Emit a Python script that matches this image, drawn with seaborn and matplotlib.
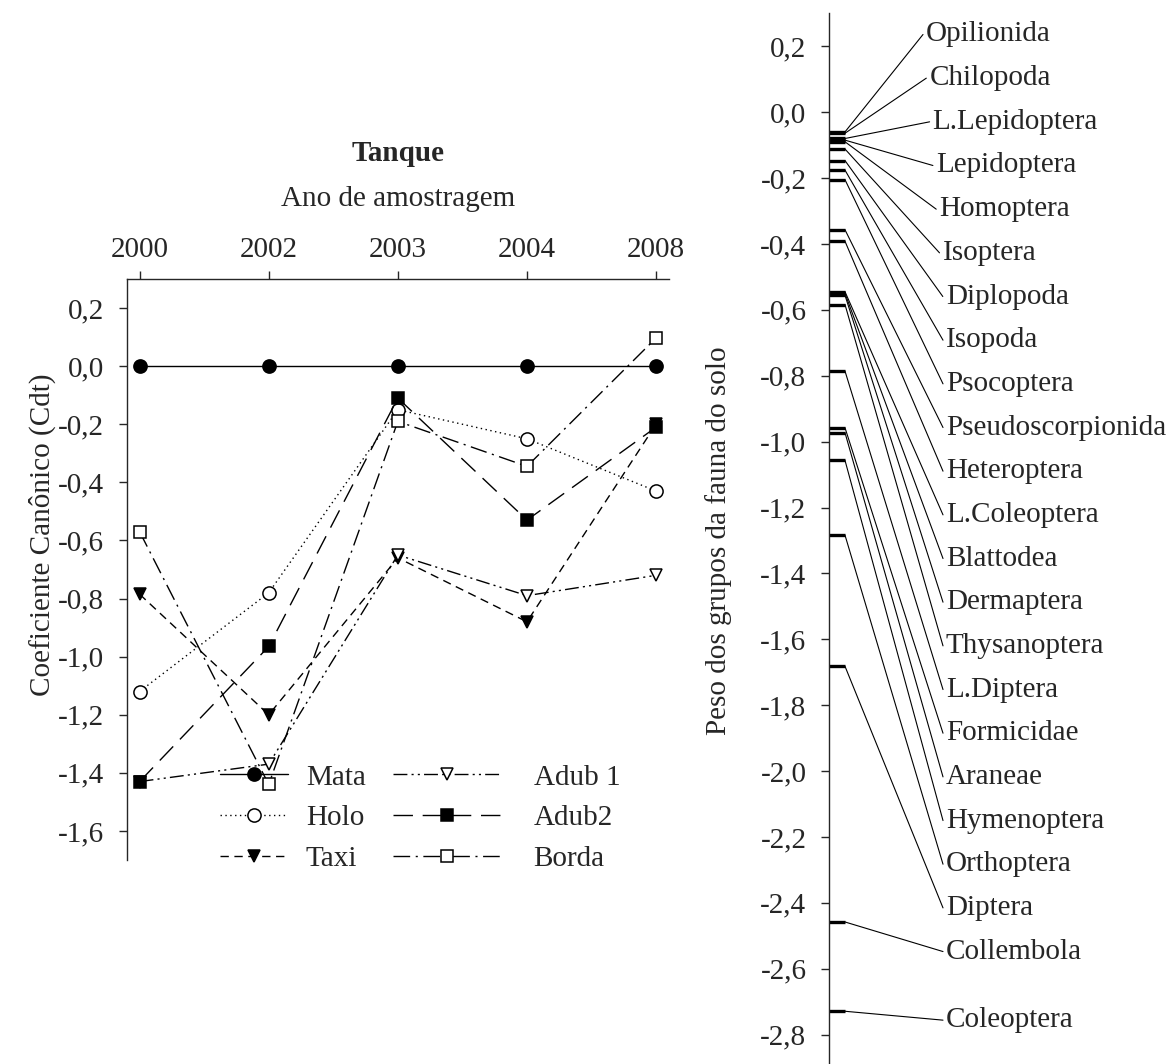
import numpy as np
import pandas as pd
import matplotlib
matplotlib.use('Agg')
import matplotlib.pyplot as plt
import matplotlib.ticker as mticker
import seaborn as sns

# ── Data ────────────────────────────────────────────────────────────────
years = ['2000', '2002', '2003', '2004', '2008']

mata = [0.0, 0.0, 0.0, 0.0, 0.0]
holo = [-1.12, -0.78, -0.15, -0.25, -0.43]
taxi = [-0.785, -1.20, -0.66, -0.88, -0.20]
adub1 = [-1.43, -1.37, -0.65, -0.79, -0.72]
adub2 = [-1.43, -0.965, -0.11, -0.53, -0.21]
borda = [-0.57, -1.44, -0.19, -0.345, 0.097]

groups = ['Opilionida', 'Chilopoda', 'L.Lepidoptera', 'Lepidoptera', 'Homoptera',
          'Isoptera', 'Diplopoda', 'Isopoda', 'Psocoptera', 'Pseudoscorpionida',
          'Heteroptera', 'L.Coleoptera', 'Blattodea', 'Dermaptera', 'Thysanoptera',
          'L.Diptera', 'Formicidae', 'Araneae', 'Hymenoptera', 'Orthoptera',
          'Diptera', 'Collembola', 'Coleoptera']
weights = [-0.060, -0.064, -0.080, -0.085, -0.090,
           -0.112, -0.147, -0.176, -0.205, -0.357,
           -0.392, -0.545, -0.550, -0.556, -0.584,
           -0.786, -0.958, -0.973, -1.057, -1.284,
           -1.682, -2.458, -2.729]

# ── Setup ───────────────────────────────────────────────────────────────
sns.set_theme(style='ticks')
plt.rcParams['font.family'] = ['Liberation Serif', 'DejaVu Serif']
plt.rcParams['font.size'] = 21
plt.rcParams['axes.linewidth'] = 1.0

W, H = 1174, 1064
fig = plt.figure(figsize=(W / 100, H / 100), dpi=100)


def comma_fmt(v, _):
    v = round(v, 1)
    if v == 0:
        v = 0.0
    return f'{v:.1f}'.replace('.', ',')


# ── Left panel: canonical coefficients ──────────────────────────────────
ax = fig.add_axes([126.7 / W, 1 - 860 / H, (669 - 126.7) / W, (860 - 279) / H])
xpos = np.arange(len(years))

series = [
    ('Mata', mata, 'o', 'black', '-'),
    ('Holo', holo, 'o', 'white', (0, (1, 2.5))),
    ('Taxi', taxi, 'v', 'black', (0, (6, 4))),
    ('Adub 1', adub1, 'v', 'white', (0, (10, 3, 1.5, 3, 1.5, 3))),
    ('Adub2', adub2, 's', 'black', (0, (14, 7))),
    ('Borda', borda, 's', 'white', (0, (12, 4, 1.5, 4))),
]
for name, vals, mk, fc, ls in series:
    ms = 9.5 if mk == 'o' else 8.5
    sns.lineplot(x=xpos, y=vals, ax=ax, label=name, color='black',
                 linewidth=1.0, linestyle=ls, marker=mk, markersize=ms,
                 markerfacecolor=fc, markeredgecolor='black',
                 markeredgewidth=1.1, clip_on=False)

ax.set_xlim(-0.1, 4.1)
ax.set_ylim(-1.7, 0.3)
ax.xaxis.tick_top()
ax.xaxis.set_label_position('top')
ax.set_xticks(xpos)
ax.set_xticklabels(years)
ax.yaxis.set_major_locator(mticker.FixedLocator(np.round(np.arange(0.2, -1.61, -0.2), 1)))
ax.yaxis.set_major_formatter(mticker.FuncFormatter(comma_fmt))
ax.tick_params(axis='x', direction='out', length=5.5, width=1, pad=6, labelsize=21)
ax.tick_params(axis='y', direction='out', length=5.5, width=1, pad=11, labelsize=21)
for s in ['right', 'bottom']:
    ax.spines[s].set_visible(False)
ax.set_xlabel('Ano de amostragem', fontsize=21, labelpad=22)
ax.set_ylabel('Coeficiente Canônico (Cdt)', fontsize=21)
ax.yaxis.set_label_coords(-0.13, 0.56)
ax.set_title('Tanque', fontsize=21, fontweight='bold', pad=18)

# two legend columns with different handle lengths
handles, labels = ax.get_legend_handles_labels()
leg_kw = dict(loc='upper left', frameon=False, fontsize=21,
              labelspacing=0.49, borderaxespad=0)
leg1 = ax.legend(handles[:3], labels[:3], bbox_to_anchor=(0.15, 0.185),
                 handlelength=2.35, handletextpad=0.6, **leg_kw)
ax.add_artist(leg1)
ax.legend(handles[3:], labels[3:], bbox_to_anchor=(0.47, 0.185),
          handlelength=3.66, handletextpad=1.15, **leg_kw)

# ── Right panel: weight of soil fauna groups ────────────────────────────
x0, y_top, y_bot = 829.3, 13.3, 1067.6
ax2 = fig.add_axes([x0 / W, 1 - y_bot / H, (W - x0) / W, (y_bot - y_top) / H])
ax2.set_xlim(0, 1)
ax2.set_ylim(-2.9, 0.3)
for s in ['right', 'bottom', 'top']:
    ax2.spines[s].set_visible(False)
ax2.set_xticks([])
ax2.yaxis.set_major_locator(mticker.FixedLocator(np.round(np.arange(0.2, -2.81, -0.2), 1)))
ax2.yaxis.set_major_formatter(mticker.FuncFormatter(comma_fmt))
ax2.tick_params(axis='y', direction='out', length=5.5, width=1, pad=11, labelsize=21)
ax2.set_ylabel('Peso dos grupos da fauna do solo', fontsize=21, labelpad=20)
ax2.set_facecolor('none')

ax_w = W - x0
px_per_unit = (y_bot - y_top) / 3.2
mark_end = 15.7 / ax_w
ax2.hlines(weights, 0, mark_end, color='black', linewidth=2.4, clip_on=False)

# spread the labels evenly down the side, Coleoptera kept near its mark
n = len(groups)
lab_y = [0.2357 - i * 43.67 / px_per_unit for i in range(n - 1)] + [-2.756]
lab_x = [min(926 + 3.3 * i, 946) for i in range(n)]
for g, w, ly, lx in zip(groups, weights, lab_y, lab_x):
    fx = (lx - x0) / ax_w
    ax2.plot([mark_end, fx - 3 / ax_w], [w, ly], color='black', linewidth=0.8,
             clip_on=False)
    ax2.text(fx, ly, g, ha='left', va='center', fontsize=21, clip_on=False)

fig.savefig('out.png', dpi=100)
